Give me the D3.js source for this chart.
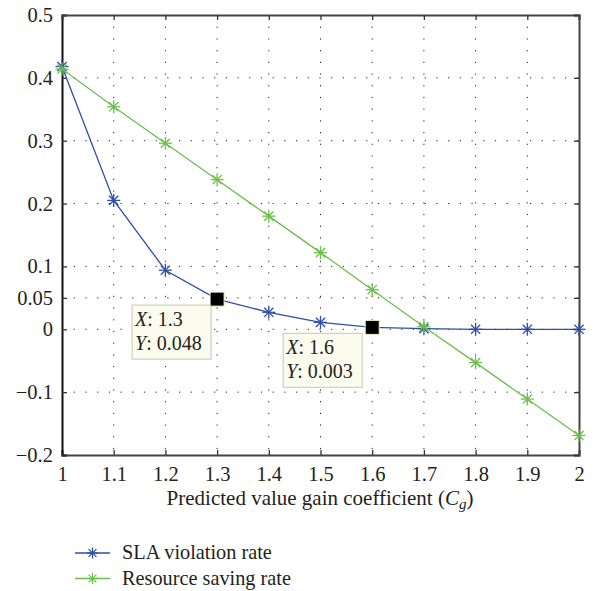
<!DOCTYPE html>
<html>
<head>
<meta charset="utf-8">
<script src="https://cdn.jsdelivr.net/npm/d3@7"></script>
<style>
  body { margin: 0; background: #fff; }
</style>
</head>
<body>
<div id="chart"></div>
<script>
const xValues = [1, 1.1, 1.2, 1.3, 1.4, 1.5, 1.6, 1.7, 1.8, 1.9, 2]
const slaRate = [0.418, 0.205, 0.094, 0.048, 0.027, 0.011, 0.003, 0.001, 0, 0, 0]
const savingRate = [0.414, 0.354, 0.296, 0.238, 0.180, 0.122, 0.063, 0.004, -0.053, -0.111, -0.169]
const xTicks = [1, 1.1, 1.2, 1.3, 1.4, 1.5, 1.6, 1.7, 1.8, 1.9, 2]
const yTicks = [-0.2, -0.1, 0, 0.05, 0.1, 0.2, 0.3, 0.4, 0.5]
const dataTips = [{x: 1.3, y: 0.048, label: ['1.3', '0.048']}, {x: 1.6, y: 0.003, label: ['1.6', '0.003']}]
const seriesNames = ['SLA violation rate', 'Resource saving rate']

const width = 595, height = 591
const pLeft = 62, pRight = 579, pTop = 15, pBottom = 455
const blue = '#2f4fa6', green = '#6cc04a'
const serif = '"Liberation Serif"'

const svg = d3.select('#chart').append('svg')
  .attr('width', width).attr('height', height)

const x = d3.scaleLinear().domain([1, 2]).range([pLeft, pRight])
const y = d3.scaleLinear().domain([-0.2, 0.5]).range([pBottom, pTop])
const fmt = d => d === 0 ? '0' : (d < 0 ? '\u2212' + Math.abs(d) : String(d))

// dotted grid
const grid = svg.append('g')
grid.selectAll('.vg').data(xTicks.slice(1, -1)).enter().append('line')
  .attr('x1', d => x(d)).attr('x2', d => x(d)).attr('y1', pTop).attr('y2', pBottom)
  .attr('stroke', '#222').attr('stroke-width', 1).attr('stroke-dasharray', '1.2,10.5')
grid.selectAll('.hg').data(yTicks.slice(1, -1)).enter().append('line')
  .attr('y1', d => y(d)).attr('y2', d => y(d)).attr('x1', pLeft).attr('x2', pRight)
  .attr('stroke', '#222').attr('stroke-width', 1).attr('stroke-dasharray', '1.2,10.5')

// axes
const xAxis = d3.axisBottom(x).tickValues(xTicks).tickSize(-5).tickPadding(11).tickFormat(fmt)
const yAxis = d3.axisLeft(y).tickValues(yTicks).tickSize(-5).tickPadding(9).tickFormat(fmt)
const gx = svg.append('g').attr('transform', `translate(0,${pBottom})`).call(xAxis)
const gy = svg.append('g').attr('transform', `translate(${pLeft},0)`).call(yAxis)
const gx2 = svg.append('g').attr('transform', `translate(0,${pTop})`).call(d3.axisTop(x).tickValues(xTicks).tickSize(-5).tickFormat(''))
const gy2 = svg.append('g').attr('transform', `translate(${pRight},0)`).call(d3.axisRight(y).tickValues(yTicks).tickSize(-5).tickFormat(''))
;[gx, gy, gx2, gy2].forEach(g => {
  g.attr('font-family', 'Liberation Serif')
  g.select('.domain').attr('stroke', '#444').attr('stroke-width', 2)
  g.selectAll('.tick line').attr('stroke', '#333').attr('stroke-width', 1.3)
  g.selectAll('text').style('font-size', '20.5px').attr('fill', '#231f20').style('font-family', serif)
})
gy.select('.domain').attr('stroke', '#111')

const txt = (sel) => sel.style('font-family', serif).attr('fill', '#231f20')

// x label
const xl = txt(svg.append('text')).attr('x', 320).attr('y', 505).attr('text-anchor', 'middle').style('font-size', '21px')
xl.append('tspan').text('Predicted value gain coefficient (')
xl.append('tspan').attr('font-style', 'italic').text('C')
xl.append('tspan').attr('font-style', 'italic').attr('dy', 4).style('font-size', '15px').text('g')
xl.append('tspan').attr('dy', -4).text(')')

// star marker
const star = (g, cx, cy, color, r) => {
  for (let k = 0; k < 4; k++) {
    const a = k * Math.PI / 4
    g.append('line')
      .attr('x1', cx - r * Math.cos(a)).attr('y1', cy - r * Math.sin(a))
      .attr('x2', cx + r * Math.cos(a)).attr('y2', cy + r * Math.sin(a))
      .attr('stroke', color).attr('stroke-width', 1.3)
  }
}

const series = [[slaRate, blue], [savingRate, green]]
const line = d3.line().x((d, i) => x(xValues[i])).y(d => y(d))
series.forEach(([vals, color]) => {
  const g = svg.append('g')
  g.append('path').datum(vals).attr('d', line).attr('fill', 'none').attr('stroke', color).attr('stroke-width', 1.3)
  vals.forEach((v, i) => star(g, x(xValues[i]), y(v), color, 6.5))
})

// data tips
const tipOffsets = [[-85, 6], [-89, 6]]
dataTips.forEach((t, i) => {
  const px = x(t.x), py = y(t.y)
  const bx = px + tipOffsets[i][0], by = py + tipOffsets[i][1]
  svg.append('rect').attr('x', bx).attr('y', by).attr('width', 79).attr('height', 54)
    .attr('fill', '#fbfbee').attr('stroke', '#cfcfc4').attr('stroke-width', 1.2)
  t.label.forEach((s, j) => {
    const tx = txt(svg.append('text')).attr('x', bx + 3).attr('y', by + 21 + j * 24).style('font-size', '20px')
    tx.append('tspan').attr('font-style', 'italic').text(j === 0 ? 'X' : 'Y')
    tx.append('tspan').text(': ' + s)
  })
  svg.append('rect').attr('x', px - 7).attr('y', py - 7).attr('width', 14).attr('height', 14)
    .attr('fill', '#000').attr('stroke', '#f3f0c8').attr('stroke-width', 1)
})

// legend
const legend = svg.append('g')
seriesNames.forEach((name, i) => {
  const ly = 553 + i * 25.5, color = series[i][1]
  legend.append('line').attr('x1', 75).attr('x2', 110).attr('y1', ly).attr('y2', ly).attr('stroke', color).attr('stroke-width', 1.3)
  star(legend, 92.5, ly, color, 5.5)
  txt(legend.append('text')).attr('x', 122).attr('y', ly + 6).style('font-size', '20.3px').text(name)
})
</script>
</body>
</html>
